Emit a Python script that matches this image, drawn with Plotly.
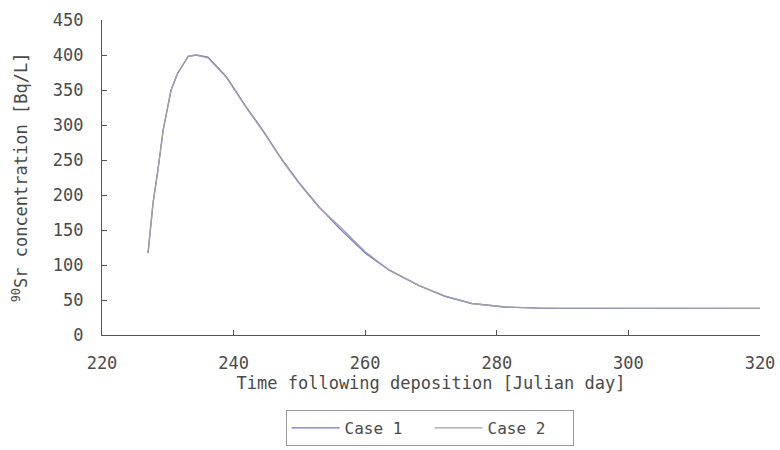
import plotly.graph_objects as go

days = [227.0, 227.75, 228.5, 229.3, 230.5, 231.5, 233.1, 234.3, 236.1, 238.9, 241.9, 244.4,
        247.4, 250.0, 253.0, 256.0, 260.0, 263.6, 268.1, 272.1, 276.2, 281.2, 286.3, 290.0,
        300.0, 310.0, 320.0]
case1 = [117, 188, 236, 293, 350, 374, 398, 400, 397, 369, 326, 293,
         250, 217, 183, 153, 117, 93, 71, 55, 45, 40, 38.5, 38,
         38, 38, 38]
case2 = [117, 188, 236, 293, 350, 374, 398, 400, 396, 368, 325, 292,
         249, 216, 182, 156, 119, 93, 71, 56, 45, 40, 38.5, 38.5,
         38, 38, 38]

font = "DejaVu Sans Mono"
axcol = "#555555"
txtcol = "#4a4a4a"

fig = go.Figure()
fig.add_trace(go.Scatter(x=days, y=case1, mode="lines", name="Case 1",
                         line=dict(color="#7272d8", width=1.3)))
fig.add_trace(go.Scatter(x=days, y=case2, mode="lines", name="Case 2",
                         line=dict(color="#a0a0a0", width=1.3)))

fig.update_layout(
    width=780, height=450,
    margin=dict(l=102, r=20, t=20, b=115, autoexpand=False),
    paper_bgcolor="white", plot_bgcolor="white",
    font=dict(family=font, size=17, color=txtcol),
    showlegend=True,
    legend=dict(orientation="h", x=0.279, xanchor="left", y=-0.238, yanchor="top",
                bordercolor="#999999", borderwidth=1, font=dict(size=16, color=txtcol),
                itemwidth=48, entrywidth=80, entrywidthmode="pixels", tracegroupgap=0),
)
fig.update_xaxes(range=[220, 320], dtick=20, showgrid=False, zeroline=False,
                 showline=True, linecolor=axcol, linewidth=1.3, automargin=False,
                 ticks="inside", ticklen=5, tickcolor=axcol,
                 tickfont=dict(size=17, color=txtcol), ticklabelstandoff=12,
                 title=dict(text="Time following deposition [Julian day]",
                            font=dict(size=17, color=txtcol), standoff=2))
fig.update_yaxes(range=[0, 450], dtick=50, showgrid=False, zeroline=False,
                 showline=True, linecolor=axcol, linewidth=1.3, automargin=False,
                 ticks="inside", ticklen=5, tickcolor=axcol,
                 tickfont=dict(size=17, color=txtcol), ticklabelstandoff=14,
                 title=dict(text="<sup>90</sup>Sr concentration [Bq/L]",
                            font=dict(size=17, color=txtcol), standoff=20))

fig.write_html("out.html")
